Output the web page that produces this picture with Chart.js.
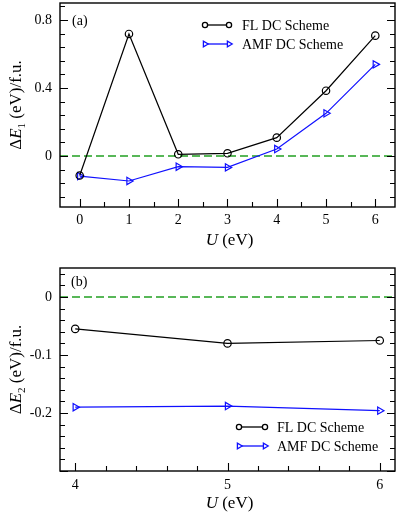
<!DOCTYPE html>
<html><head><meta charset="utf-8">
<script src="https://cdn.jsdelivr.net/npm/chart.js@4/dist/chart.umd.min.js"></script>
<style>
html,body{margin:0;padding:0;background:#fff;}
#wrap{position:relative;width:397px;height:516px;}
canvas{position:absolute;left:0;}
</style>
</head><body>
<div id="wrap">
<canvas id="ca" width="397" height="258" style="top:0;width:397px;height:258px"></canvas>
<canvas id="cb" width="397" height="258" style="top:258px;width:397px;height:258px"></canvas>
</div>
<script>
// ---- data ----
const uA = [0, 1, 2, 3, 4, 5, 6];
const flA = [-0.115, 0.718, 0.010, 0.016, 0.108, 0.384, 0.708];
const amfA = [-0.118, -0.147, -0.063, -0.067, 0.041, 0.251, 0.539];
const uB = [4, 5, 6];
const flB = [-0.055, -0.080, -0.075];
const amfB = [-0.190, -0.188, -0.196];
const xTicksA = [0, 1, 2, 3, 4, 5, 6];
const yTicksA = [0, 0.4, 0.8];
const xTicksB = [4, 5, 6];
const yTicksB = [-0.2, -0.1, 0];
const seriesNames = ['FL DC Scheme', 'AMF DC Scheme'];
const panelLabels = ['(a)', '(b)'];

const FONT = "'Liberation Serif','Times New Roman',serif";
const BLUE = '#1010ff';
const GREEN = '#22a022';

function pts(xs, ys){ return xs.map((x,i)=>({x:x, y:ys[i]})); }
function fmt(v){ if (Math.abs(v)<1e-9) return '0'; return v.toFixed(1); }

function drawRich(ctx, parts, x, y, rot){
  ctx.save();
  ctx.translate(x, y);
  if (rot) ctx.rotate(rot);
  let total = 0;
  parts.forEach(p=>{ ctx.font = p.font; p.w = ctx.measureText(p.t).width; total += p.w; });
  let cx = -total/2;
  ctx.textBaseline = 'middle';
  ctx.textAlign = 'left';
  ctx.fillStyle = '#000';
  parts.forEach(p=>{ ctx.font = p.font; ctx.fillText(p.t, cx, p.dy||0); cx += p.w; });
  ctx.restore();
}

function decor(cfg){
  return {
    id: 'decor',
    afterDraw(chart){
      const ctx = chart.ctx, a = chart.chartArea, xs = chart.scales.x, ys = chart.scales.y;
      ctx.save();
      ctx.strokeStyle = '#000';
      ctx.lineWidth = 1.1;
      ctx.beginPath();
      const eps = 1e-7;
      for (let i = Math.ceil(xs.min/cfg.xMinor - eps); i*cfg.xMinor <= xs.max + eps; i++){
        const v = i*cfg.xMinor;
        const r = v/cfg.xMajor, major = Math.abs(r - Math.round(r)) < 1e-6;
        const px = Math.round(xs.getPixelForValue(v)) + 0.5;
        const len = major ? 8 : 5;
        ctx.moveTo(px, a.bottom); ctx.lineTo(px, a.bottom - len);
      }
      for (let i = Math.ceil(ys.min/cfg.yMinor - eps); i*cfg.yMinor <= ys.max + eps; i++){
        const v = i*cfg.yMinor;
        const r = v/cfg.yMajor, major = Math.abs(r - Math.round(r)) < 1e-6;
        const py = Math.round(ys.getPixelForValue(v)) + 0.5;
        const len = major ? 8 : 5;
        ctx.moveTo(a.left, py); ctx.lineTo(a.left + len, py);
        ctx.moveTo(a.right, py); ctx.lineTo(a.right - len, py);
      }
      ctx.stroke();
      ctx.lineWidth = 1.4;
      ctx.strokeRect(a.left, a.top, a.right - a.left, a.bottom - a.top);

      ctx.fillStyle = '#000';
      ctx.font = '14px ' + FONT;
      ctx.textBaseline = 'middle';
      ctx.textAlign = 'left';
      ctx.fillText(cfg.label, cfg.labelX, cfg.labelY);

      const yc = (a.top + a.bottom)/2;
      drawRich(ctx, [
        {t:'\u0394', font:'17px ' + FONT},
        {t:'E', font:'italic 17px ' + FONT},
        {t:cfg.sub, font:'11px ' + FONT, dy:5},
        {t:' (eV)/f.u.', font:'17px ' + FONT}
      ], 17, yc, -Math.PI/2);
      drawRich(ctx, [
        {t:'U', font:'italic 17px ' + FONT},
        {t:' (eV)', font:'17px ' + FONT}
      ], (a.left + a.right)/2 + 2, cfg.xTitleY, 0);

      const lg = cfg.legend;
      const styles = [
        {color:'#000', ps:'circle', rot:0, r:2.6},
        {color:BLUE, ps:'triangle', rot:90, r:3.2}
      ];
      seriesNames.forEach((name, k)=>{
        const y = lg.y + k*lg.dy, s = styles[k];
        ctx.strokeStyle = s.color; ctx.lineWidth = 1.3;
        ctx.beginPath(); ctx.moveTo(lg.x1, y); ctx.lineTo(lg.x2, y); ctx.stroke();
        ctx.fillStyle = '#fff';
        Chart.helpers.drawPoint(ctx, {pointStyle:s.ps, rotation:s.rot, radius:s.r, borderWidth:1.3}, lg.x1, y);
        Chart.helpers.drawPoint(ctx, {pointStyle:s.ps, rotation:s.rot, radius:s.r, borderWidth:1.3}, lg.x2, y);
        ctx.fillStyle = '#000';
        ctx.font = '14px ' + FONT;
        ctx.textBaseline = 'middle';
        ctx.textAlign = 'left';
        ctx.fillText(name, lg.tx, y + 1);
      });
      ctx.restore();
    }
  };
}

function build(id, xv, fl, amf, xr, yr, xTicks, yTicks, pad, xH, xPad, cfg){
  return new Chart(document.getElementById(id), {
    type: 'line',
    data: {
      datasets: [
        {label: seriesNames[0], data: pts(xv, fl), borderColor:'#000', backgroundColor:'#fff',
         borderWidth:1.2, pointStyle:'circle', pointRadius:3.7, pointBorderWidth:1.2,
         pointBackgroundColor:'rgba(0,0,0,0)', pointBorderColor:'#000', tension:0},
        {label: seriesNames[1], data: pts(xv, amf), borderColor:BLUE, backgroundColor:'#fff',
         borderWidth:1.2, pointStyle:'triangle', pointRotation:90, pointRadius:4.2, pointBorderWidth:1.2,
         pointBackgroundColor:'rgba(0,0,0,0)', pointBorderColor:BLUE, tension:0},
        {label: 'zero', data: [{x:xr[0], y:0}, {x:xr[1], y:0}], borderColor:GREEN,
         borderWidth:1.5, borderDash:[8,4], pointRadius:0, tension:0}
      ]
    },
    options: {
      responsive:false, animation:false, devicePixelRatio:1,
      layout: {padding: pad, autoPadding:false},
      plugins: {legend:{display:false}, tooltip:{enabled:false}},
      scales: {
        x: {type:'linear', min:xr[0], max:xr[1],
            grid:{display:false, drawTicks:false}, border:{display:false},
            afterBuildTicks: s => { s.ticks = xTicks.map(v=>({value:v})); },
            afterFit: s => { s.height = xH; s.paddingLeft = 0; s.paddingRight = 0; s.paddingTop = 0; s.paddingBottom = 0; },
            ticks:{padding:xPad, color:'#000', font:{family:FONT, size:14}, maxRotation:0,
                   callback: v => String(v)}},
        y: {type:'linear', min:yr[0], max:yr[1],
            grid:{display:false, drawTicks:false}, border:{display:false},
            afterBuildTicks: s => { s.ticks = yTicks.map(v=>({value:v})); },
            afterFit: s => { s.width = 60; s.paddingLeft = 0; s.paddingRight = 0; s.paddingTop = 0; s.paddingBottom = 0; },
            ticks:{padding:8, color:'#000', font:{family:FONT, size:14}, callback: v => fmt(v)}}
      }
    },
    plugins: [decor(cfg)]
  });
}

build('ca', uA, flA, amfA, [-0.4, 6.4], [-0.3, 0.9], xTicksA, yTicksA,
  {top:3, right:2, left:0, bottom:0}, 51, 5,
  {xMinor:0.5, xMajor:1, yMinor:0.08, yMajor:0.4, label:panelLabels[0], labelX:72, labelY:21,
   sub:'1', xTitleY:241, legend:{x1:205, x2:229, y:25, dy:19, tx:242}});

build('cb', uB, flB, amfB, [3.9, 6.1], [-0.3, 0.05], xTicksB, yTicksB,
  {top:10, right:2, left:0, bottom:0}, 45, 6,
  {xMinor:0.2, xMajor:1, yMinor:0.02, yMajor:0.1, label:panelLabels[1], labelX:71, labelY:24,
   sub:'2', xTitleY:246, legend:{x1:239, x2:265, y:169, dy:19, tx:277}});
</script>
</body></html>
